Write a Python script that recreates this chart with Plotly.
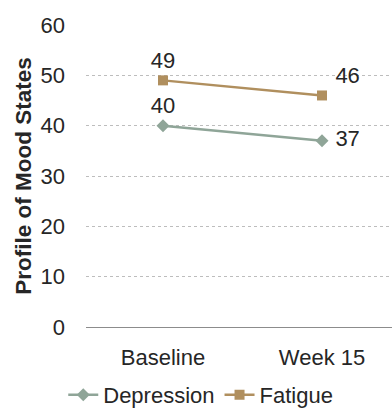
import plotly.graph_objects as go

categories = ["Baseline", "Week 15"]
depression = [40, 37]
fatigue = [49, 46]
y_ticks = [0, 10, 20, 30, 40, 50, 60]

FONT = "Liberation Sans, Arial, sans-serif"
TEXT = "#262626"
DEP_COLOR = "#8FA598"
FAT_COLOR = "#B08F5E"


def labels(values):
    # the end-point labels sit a little further right of the marker
    return [str(values[0]), " " + str(values[1])]


fig = go.Figure()
fig.add_trace(go.Scatter(
    x=categories, y=depression, name="Depression",
    mode="lines+markers+text",
    line=dict(color=DEP_COLOR, width=2.5),
    marker=dict(symbol="diamond", size=10, color=DEP_COLOR),
    text=labels(depression),
    textposition=["top center", "middle right"],
    textfont=dict(family=FONT, size=22, color=TEXT),
    cliponaxis=False,
))
fig.add_trace(go.Scatter(
    x=categories, y=fatigue, name="Fatigue",
    mode="lines+markers+text",
    line=dict(color=FAT_COLOR, width=2.5),
    marker=dict(symbol="square", size=10, color=FAT_COLOR),
    text=labels(fatigue),
    textposition=["top center", "top right"],
    textfont=dict(family=FONT, size=22, color=TEXT),
    cliponaxis=False,
))

fig.update_layout(
    width=392, height=408,
    margin=dict(l=86, r=0, t=25, b=81, autoexpand=False),
    paper_bgcolor="white", plot_bgcolor="white",
    font=dict(family=FONT, size=21, color=TEXT),
    showlegend=True,
    legend=dict(
        orientation="h", x=0.375, xanchor="center", y=-0.225, yanchor="middle",
        font=dict(family=FONT, size=22, color=TEXT),
        itemwidth=30, tracegroupgap=0,
    ),
)
fig.update_xaxes(
    type="category", range=[-0.484, 1.44],
    showgrid=False, showline=False, zeroline=False,
    ticks="", ticklabelstandoff=15,
    tickfont=dict(family=FONT, size=22, color=TEXT),
)
fig.update_yaxes(
    range=[0, 60], tickvals=y_ticks,
    showgrid=True, gridcolor="#BDBDBD", griddash="dot", gridwidth=1,
    zeroline=True, zerolinecolor="#8C8C8C", zerolinewidth=1,
    showline=False, ticks="", ticklabelstandoff=20,
    tickfont=dict(family=FONT, size=22, color=TEXT),
    title=dict(text="<b>Profile of Mood States</b>", standoff=2,
               font=dict(family=FONT, size=22.5, color=TEXT)),
)

fig.write_html("out.html")
